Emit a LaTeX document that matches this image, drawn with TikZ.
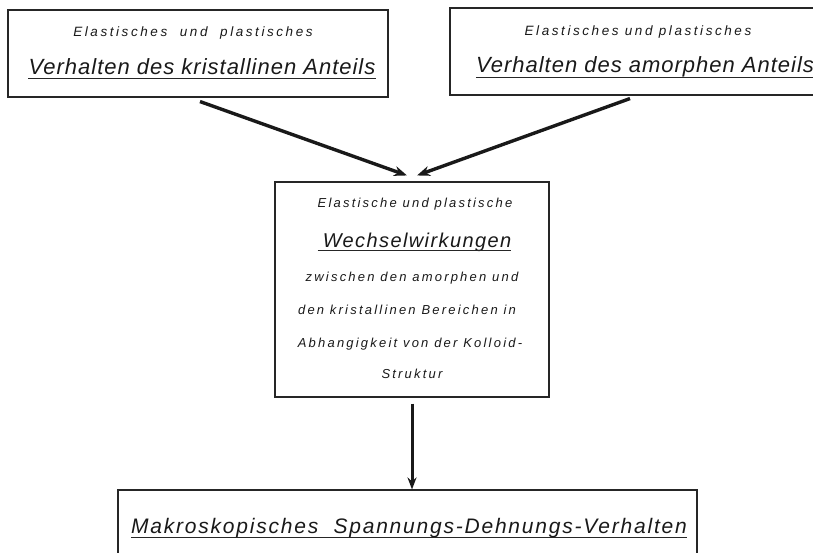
\documentclass[tikz,border=0pt]{standalone}
\usepackage{fontspec}
\setmainfont{Liberation Sans}
\usetikzlibrary{arrows.meta}
\tikzset{
  box/.style={draw=black!85, line width=1.1pt, rectangle, inner sep=0pt},
  txt/.style={anchor=base, inner sep=0pt, text=black!90},
  arr/.style={draw=black!90, line width=3.4pt, -{Stealth[length=13pt,width=10pt]}},
  uline/.style={draw=black!85, line width=0.9pt},
}
\newcommand{\smalltxt}[1]{{\fontsize{13.5}{14}\selectfont\itshape\addfontfeatures{LetterSpace=19}#1}}
\newcommand{\midtxt}[1]{{\fontsize{13}{14}\selectfont\itshape\addfontfeatures{LetterSpace=17}#1}}
\newcommand{\bigtxt}[1]{{\fontsize{22}{24}\selectfont\itshape\addfontfeatures{LetterSpace=4.5}#1}}
\begin{document}
\begin{tikzpicture}[x=1pt,y=-1pt]
\useasboundingbox (0,0) rectangle (813,552);
% boxes
\node[box, minimum width=380pt, minimum height=87pt] (b1) at (198,53.5) {};
\node[box, minimum width=390pt, minimum height=87pt] (b2) at (645,51.5) {};
\node[box, minimum width=274pt, minimum height=215pt] (mid) at (412,289.5) {};
\node[box, minimum width=579pt, minimum height=110pt] (b4) at (407.5,545) {};
% box 1 text
\node[txt] (t1a) at (193,36) {\smalltxt{Elastisches\ \ und\ \ plastisches}};
\node[txt] (t1b) at (202,74) {\bigtxt{Verhalten des kristallinen Anteils}};
\draw[uline] ([yshift=-4pt]t1b.base west) -- ([yshift=-4pt]t1b.base east);
% box 2 text
\node[txt] (t2a) at (638,35) {\smalltxt{Elastisches und plastisches}};
\node[txt] (t2b) at (645,72) {\bigtxt{Verhalten des\ amorphen Anteils}};
\draw[uline] ([yshift=-5pt]t2b.base west) -- ([yshift=-5pt]t2b.base east);
% middle text
\node[txt] (m1) at (415,207) {\midtxt{Elastische und plastische}};
\node[txt] (m2) at (417,247) {{\fontsize{20}{22}\selectfont\itshape\addfontfeatures{LetterSpace=7}Wechselwirkungen}};
\draw[uline] ([xshift=-5pt,yshift=-3pt]m2.base west) -- ([yshift=-3pt]m2.base east);
\node[txt] (m3) at (412,281) {\midtxt{zwischen den amorphen und}};
\node[txt] (m4) at (407,314) {\midtxt{den kristallinen Bereichen in}};
\node[txt] (m5) at (410,347) {\midtxt{Abhangigkeit von der Kolloid-}};
\node[txt] (m6) at (412,378) {\midtxt{Struktur}};
% bottom text
\node[txt] (t4) at (409,533) {{\fontsize{21}{23}\selectfont\itshape\addfontfeatures{LetterSpace=8.5}Makroskopisches\ \ Spannungs-Dehnungs-Verhalten}};
\draw[uline] ([yshift=-4pt]t4.base west) -- ([yshift=-4pt]t4.base east);
% arrows
\draw[arr] ([xshift=2pt,yshift=-4pt]b1.south) -- ([xshift=-5pt,yshift=6pt]mid.north);
\draw[arr] ([xshift=-15pt,yshift=-3pt]b2.south) -- ([xshift=5pt,yshift=6pt]mid.north);
\draw[arr, line width=3pt, -{Stealth[length=12pt,width=9pt]}] ([yshift=-6pt]mid.south) -- (mid.south |- b4.north);
\end{tikzpicture}
\end{document}
